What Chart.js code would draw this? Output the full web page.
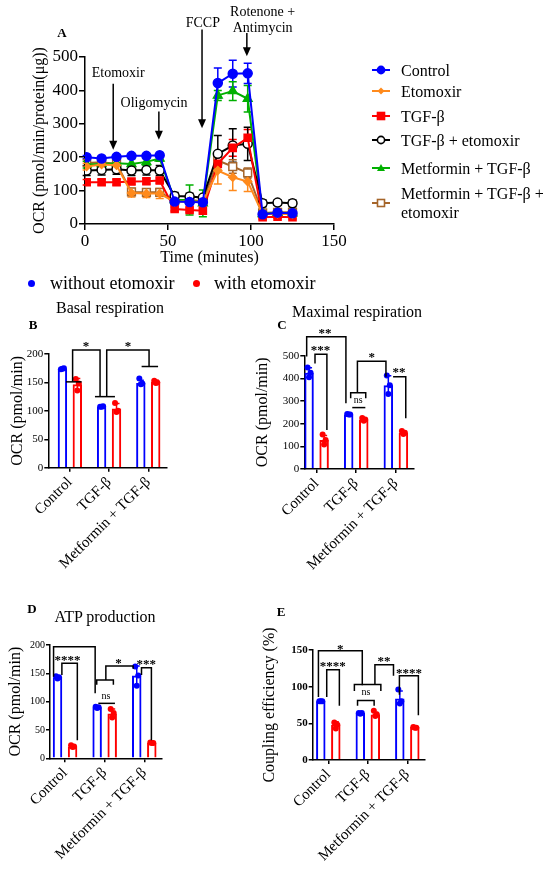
<!DOCTYPE html>
<html lang="en">
<head>
<meta charset="UTF-8">
<title>OCR panels</title>
<script src="https://cdn.jsdelivr.net/npm/chart.js"></script>
<style>
  body { margin: 0; background: #fff; }
  #page { position: relative; width: 550px; height: 875px; overflow: hidden; font-family: 'Liberation Serif', serif; color: #000; }
  canvas { position: absolute; }
  .txt { position: absolute; white-space: nowrap; transform: translate(-50%, -50%); }
  .letter { font-weight: bold; font-size: 13px; }
  .ptitle { font-size: 16px; }
  .legA { position: absolute; left: 401px; font-size: 16px; line-height: 19px; width: 160px; }
  .mkA { position: absolute; left: 372px; }
  .dot { position: absolute; width: 7px; height: 7px; border-radius: 50%; }
  .leg2 { position: absolute; font-size: 18px; line-height: 20px; white-space: nowrap; }
</style>
</head>
<body>
<div id="page">
  <canvas id="chartA" width="550" height="267" style="left:0;top:0"></canvas>
  <canvas id="chartB" width="250" height="290" style="left:0;top:290px"></canvas>
  <canvas id="chartC" width="300" height="290" style="left:250px;top:290px"></canvas>
  <canvas id="chartD" width="250" height="290" style="left:0;top:585px"></canvas>
  <canvas id="chartE" width="300" height="290" style="left:250px;top:585px"></canvas>

  <div class="txt letter" style="left:62px;top:33px">A</div>
  <div class="txt letter" style="left:33px;top:325px">B</div>
  <div class="txt letter" style="left:282px;top:325px">C</div>
  <div class="txt letter" style="left:32px;top:609px">D</div>
  <div class="txt letter" style="left:281px;top:612px">E</div>
  <div class="txt ptitle" style="left:110px;top:308px">Basal respiration</div>
  <div class="txt ptitle" style="left:357px;top:312px">Maximal respiration</div>
  <div class="txt ptitle" style="left:105px;top:617px">ATP production</div>

  <div class="dot" style="left:28px;top:280px;background:#0000ff"></div>
  <div class="leg2" id="leg2a" style="left:50px;top:273px"></div>
  <div class="dot" style="left:193px;top:280px;background:#ff0000"></div>
  <div class="leg2" id="leg2b" style="left:214px;top:273px"></div>
  <div id="legendA"></div>
</div>
<script>
// ---- panel A: Seahorse trace ----
const times = [1, 10, 19, 28, 37, 45, 54, 63, 71, 80, 89, 98, 107, 116, 125];
const ocrControl    = [200, 196, 201, 204, 204, 206, 67, 66, 65, 422, 450, 451, 29, 34, 32];
const sdControl     = [5, 4, 4, 4, 4, 4, 8, 8, 8, 45, 40, 30, 5, 5, 5];
const ocrEtomoxir   = [172, 178, 176, 93, 91, 91, 66, 68, 65, 160, 140, 127, 30, 31, 29];
const sdEtomoxir    = [10, 10, 10, 12, 12, 15, 8, 8, 8, 40, 40, 30, 5, 5, 5];
const ocrTgfb       = [125, 125, 125, 127, 128, 130, 45, 42, 40, 180, 228, 258, 20, 22, 20];
const sdTgfb        = [8, 8, 8, 8, 8, 8, 6, 6, 6, 20, 25, 25, 5, 5, 5];
const ocrTgfbEto    = [160, 162, 164, 160, 162, 160, 84, 82, 79, 210, 235, 240, 62, 64, 62];
const sdTgfbEto     = [15, 15, 15, 15, 15, 15, 10, 10, 8, 55, 50, 50, 10, 8, 10];
const ocrMetTgfb    = [178, 180, 182, 180, 186, 196, 72, 72, 62, 385, 398, 375, 30, 34, 32];
const sdMetTgfb     = [10, 10, 10, 15, 10, 8, 10, 45, 40, 15, 28, 40, 5, 5, 5];
const ocrMetTgfbEto = [183, 185, 180, 96, 95, 95, 70, 72, 68, 190, 172, 153, 33, 35, 35];
const sdMetTgfbEto  = [10, 10, 10, 10, 10, 10, 8, 8, 8, 15, 20, 15, 5, 5, 5];
const namesA = ['Control', 'Etomoxir', 'TGF-β', 'TGF-β + etomoxir', 'Metformin + TGF-β', 'Metformin + TGF-β + etomoxir'];
const valuesA = [ocrControl, ocrEtomoxir, ocrTgfb, ocrTgfbEto, ocrMetTgfb, ocrMetTgfbEto];
const errorsA = [sdControl, sdEtomoxir, sdTgfb, sdTgfbEto, sdMetTgfb, sdMetTgfbEto];
// injection arrows: time, arrow from/to (OCR units), label centre
const injections = [
  { text: ['Etomoxir'], x: 17, from: 420, to: 222, at: [20, 452] },
  { text: ['Oligomycin'], x: 44.5, from: 337, to: 252, at: [41.6, 362] },
  { text: ['FCCP'], x: 70.5, from: 582, to: 287, at: [71, 602] },
  { text: ['Rotenone +', 'Antimycin'], x: 97.5, from: 572, to: 502, at: [107, 611] }
];

// ---- panels B-E: bar charts ----
const groups = ['Control', 'TGF-β', 'Metformin + TGF-β'];
const seriesNames = ['without etomoxir', 'with etomoxir'];

const basalWithout = [174, 107, 149];
const basalWith = [147, 104, 151];
const basalSd = [[2, 1, 5], [10, 9, 3]];
const basalPts = [[[173, 175, 174], [107, 108, 107], [157, 148, 147]],
                  [[156, 148, 136], [114, 100, 98], [153, 150, 149]]];

const maximalWithout = [425, 241, 370];
const maximalWith = [128, 218, 160];
const maximalSd = [[22, 3, 42], [20, 6, 7]];
const maximalPts = [[[448, 425, 405], [243, 241, 240], [413, 370, 331]],
                    [[152, 128, 108], [225, 218, 213], [168, 160, 155]]];

const atpWithout = [143, 90, 146];
const atpWith = [21, 79, 27];
const atpSd = [[2, 1, 17], [2, 8, 1]];
const atpPts = [[[145, 143, 141], [91, 90, 89], [162, 146, 128]],
                [[23, 21, 20], [87, 80, 72], [28, 27, 27]]];

const couplingWithout = [80, 64, 84];
const couplingWith = [48, 62, 45];
const couplingSd = [[1, 1, 10], [4, 3, 1]];
const couplingPts = [[[80, 80, 80], [64, 64, 63], [96, 80, 77]],
                     [[51, 48, 43], [67, 62, 60], [45, 44, 44]]];

// significance brackets, in (group position, value) units
const basalBrackets = [
  { path: [[-0.1, 151], [0.3, 151]] },
  { path: [[0.07, 151], [0.07, 207], [0.77, 207], [0.77, 125]], text: '*', at: [0.41, 219] },
  { path: [[0.64, 125], [1.15, 125]] },
  { path: [[0.94, 125], [0.94, 207], [2.02, 207], [2.02, 178]], text: '*', at: [1.48, 219] },
  { path: [[1.83, 178], [2.25, 178]] }
];
const maximalBrackets = [
  { path: [[-0.25, 496], [-0.25, 584], [0.74, 584], [0.74, 290]], text: '**', at: [0.21, 610] },
  { path: [[-0.04, 466], [-0.04, 506], [0.26, 506], [0.26, 172]], text: '***', at: [0.1, 535] },
  { path: [[0.86, 312], [0.86, 337], [1.24, 337], [1.24, 312]], text: 'ns', at: [1.05, 301] },
  { path: [[0.9, 271], [1.23, 271]] },
  { path: [[1.03, 337], [1.03, 476], [1.75, 476], [1.75, 407]], text: '*', at: [1.39, 505] },
  { path: [[1.93, 407], [2.25, 407], [2.25, 224]], text: '**', at: [2.08, 438] }
];
const atpBrackets = [
  { path: [[-0.29, 144], [-0.29, 197], [0.76, 197], [0.76, 115]] },
  { path: [[-0.08, 147], [-0.08, 168], [0.31, 168], [0.31, 32]], text: '****', at: [0.06, 178] },
  { path: [[0.8, 130], [0.8, 138], [1.22, 138], [1.22, 130]] },
  { path: [[1.03, 138], [1.03, 163], [1.72, 163], [1.72, 158]], text: '*', at: [1.35, 172] },
  { path: [[0.84, 97], [1.26, 97]], text: 'ns', at: [1.03, 110] },
  { path: [[1.93, 147], [1.93, 160], [2.18, 160], [2.18, 32]], text: '***', at: [2.05, 170] }
];
const couplingBrackets = [
  { path: [[-0.25, 86], [-0.25, 149], [0.86, 149], [0.86, 102]], text: '*', at: [0.30, 155] },
  { path: [[-0.04, 86], [-0.04, 123], [0.28, 123], [0.28, 74]], text: '****', at: [0.11, 132] },
  { path: [[0.66, 94], [0.66, 103], [1.33, 103], [1.33, 94]] },
  { path: [[0.74, 74], [0.74, 81], [1.16, 81], [1.16, 74]], text: 'ns', at: [0.95, 92] },
  { path: [[1.18, 103], [1.18, 130], [1.65, 130], [1.65, 115]], text: '**', at: [1.41, 138] },
  { path: [[1.80, 89], [1.80, 115], [2.28, 115], [2.28, 61]], text: '****', at: [2.04, 122] }
];

// ---- styles ----
const FONT = "'Liberation Serif', 'Times New Roman', serif";
Chart.defaults.font.family = FONT;
Chart.defaults.color = '#000';
Chart.defaults.animation = false;
Chart.defaults.responsive = false;
Chart.defaults.plugins.legend.display = false;
Chart.defaults.plugins.tooltip.enabled = false;

const styleA = [
  { color: '#0000ff', fill: '#0000ff', marker: 'circle', radius: 4.5 },
  { color: '#ff8a1c', fill: '#ff8a1c', marker: 'rectRot', radius: 4 },
  { color: '#ff0000', fill: '#ff0000', marker: 'rect', radius: 5 },
  { color: '#000000', fill: '#ffffff', marker: 'circle', radius: 4.5 },
  { color: '#00b000', fill: '#00b000', marker: 'triangle', radius: 5 },
  { color: '#a5652a', fill: '#ffffff', marker: 'rect', radius: 5.5 }
];
const seriesColors = ['#0000ff', '#ff0000'];
const jitter = [-1.5, 1.5, 0];

function axis(size, bold, tickLen) {
  return {
    border: { display: true, color: '#000', width: 1.5 },
    grid: { display: true, drawOnChartArea: false, drawTicks: true, tickLength: tickLen, tickColor: '#000', lineWidth: 1.5, offset: false },
    ticks: { color: '#000', font: { size: size, weight: bold ? 'bold' : 'normal' }, padding: 1 }
  };
}

function arrow(ctx, x, y1, y2) {
  ctx.beginPath();
  ctx.moveTo(x, y1);
  ctx.lineTo(x, y2 - 7);
  ctx.stroke();
  ctx.beginPath();
  ctx.moveTo(x, y2);
  ctx.lineTo(x - 4, y2 - 9);
  ctx.lineTo(x + 4, y2 - 9);
  ctx.closePath();
  ctx.fill();
}

const plotA = {
  id: 'plotA',
  beforeDatasetsDraw(chart) {
    const ctx = chart.ctx, xs = chart.scales.x, ys = chart.scales.y;
    ctx.save();
    ctx.lineWidth = 1.5;
    valuesA.forEach((vals, k) => {
      ctx.strokeStyle = styleA[k].color;
      vals.forEach((v, i) => {
        const x = xs.getPixelForValue(times[i]);
        const top = ys.getPixelForValue(v + errorsA[k][i]);
        const bot = ys.getPixelForValue(v - errorsA[k][i]);
        ctx.beginPath();
        ctx.moveTo(x, top); ctx.lineTo(x, bot);
        ctx.moveTo(x - 4, top); ctx.lineTo(x + 4, top);
        ctx.moveTo(x - 4, bot); ctx.lineTo(x + 4, bot);
        ctx.stroke();
      });
    });
    ctx.restore();
  },
  afterDraw(chart) {
    const ctx = chart.ctx, xs = chart.scales.x, ys = chart.scales.y;
    ctx.save();
    ctx.strokeStyle = '#000';
    ctx.fillStyle = '#000';
    ctx.lineWidth = 1.5;
    ctx.font = '14px ' + FONT;
    ctx.textAlign = 'center';
    ctx.textBaseline = 'middle';
    injections.forEach(inj => {
      const x = xs.getPixelForValue(inj.x);
      arrow(ctx, x, ys.getPixelForValue(inj.from), ys.getPixelForValue(inj.to));
      const cx = xs.getPixelForValue(inj.at[0]);
      const cy = ys.getPixelForValue(inj.at[1]);
      inj.text.forEach((line, j) => {
        ctx.fillText(line, cx, cy + (j - (inj.text.length - 1) / 2) * 16);
      });
    });
    ctx.restore();
  }
};

const axA = { x: axis(17, false, 6), y: axis(17, false, 6) };
axA.x.ticks.stepSize = 50;
axA.y.ticks.stepSize = 100;
new Chart(document.getElementById('chartA'), {
  type: 'line',
  data: {
    datasets: valuesA.map((vals, k) => ({
      label: namesA[k],
      data: vals.map((v, i) => ({ x: times[i], y: v })),
      borderColor: styleA[k].color,
      backgroundColor: styleA[k].fill,
      pointBackgroundColor: styleA[k].fill,
      pointBorderColor: styleA[k].color,
      pointStyle: styleA[k].marker,
      pointRadius: styleA[k].radius,
      pointBorderWidth: 1.5,
      borderWidth: 2,
      tension: 0
    }))
  },
  options: {
    layout: { padding: { left: 30, right: 216, top: 57, bottom: 0 } },
    scales: {
      x: Object.assign(axA.x, {
        type: 'linear', min: 0, max: 150,
        afterFit: s => { s.height = 43; },
        title: { display: true, text: 'Time (minutes)', font: { size: 16 }, padding: 0 }
      }),
      y: Object.assign(axA.y, {
        min: 0, max: 500,
        afterFit: s => { s.width = 55; },
        title: { display: true, text: 'OCR (pmol/min/protein(μg))', font: { size: 16 }, padding: 0 }
      })
    }
  },
  plugins: [plotA]
});

// legend for panel A
function markerSvg(st) {
  const c = st.color, f = st.fill;
  let shape = '';
  if (st.marker === 'circle') shape = `<circle cx="9" cy="7" r="3.6" fill="${f}" stroke="${c}" stroke-width="1.6"/>`;
  if (st.marker === 'rect') shape = `<rect x="5.5" y="3.5" width="7" height="7" fill="${f}" stroke="${c}" stroke-width="1.6"/>`;
  if (st.marker === 'rectRot') shape = `<polygon points="9,3.5 12.5,7 9,10.5 5.5,7" fill="${f}"/>`;
  if (st.marker === 'triangle') shape = `<polygon points="9,3 13,10 5,10" fill="${f}"/>`;
  return `<svg width="18" height="14"><line x1="0" y1="7" x2="18" y2="7" stroke="${c}" stroke-width="2"/>${shape}</svg>`;
}
const legendRows = [70, 91, 116, 140, 168, 203];
const legendA = document.getElementById('legendA');
namesA.forEach((name, k) => {
  const y = legendRows[k];
  const mk = document.createElement('div');
  mk.className = 'mkA';
  mk.style.top = (y - 7) + 'px';
  mk.innerHTML = markerSvg(styleA[k]);
  legendA.appendChild(mk);
  const t = document.createElement('div');
  t.className = 'legA';
  t.textContent = name;
  t.style.top = (k === 5 ? y - 19 : y - 9.5) + 'px';
  legendA.appendChild(t);
});
document.getElementById('leg2a').textContent = seriesNames[0];
document.getElementById('leg2b').textContent = seriesNames[1];

// bar panels
function marks(means, sd, pts, brackets) {
  return {
    id: 'marks',
    afterDatasetsDraw(chart) {
      const ctx = chart.ctx, xs = chart.scales.x, ys = chart.scales.y;
      ctx.save();
      ctx.lineWidth = 1.5;
      means.forEach((vals, k) => {
        const meta = chart.getDatasetMeta(k);
        ctx.strokeStyle = seriesColors[k];
        ctx.fillStyle = seriesColors[k];
        vals.forEach((v, i) => {
          const x = meta.data[i].x;
          const top = ys.getPixelForValue(v + sd[k][i]);
          const bot = ys.getPixelForValue(v - sd[k][i]);
          ctx.beginPath();
          ctx.moveTo(x, bot); ctx.lineTo(x, top);
          ctx.moveTo(x - 3, top); ctx.lineTo(x + 3, top);
          ctx.stroke();
          pts[k][i].forEach((p, j) => {
            ctx.beginPath();
            ctx.arc(x + jitter[j], ys.getPixelForValue(p), 3, 0, Math.PI * 2);
            ctx.fill();
          });
        });
      });
      ctx.strokeStyle = '#000';
      ctx.fillStyle = '#000';
      ctx.textAlign = 'center';
      ctx.textBaseline = 'middle';
      brackets.forEach(b => {
        ctx.beginPath();
        b.path.forEach((p, j) => {
          const px = xs.getPixelForValue(p[0]), py = ys.getPixelForValue(p[1]);
          if (j) ctx.lineTo(px, py); else ctx.moveTo(px, py);
        });
        ctx.stroke();
        if (b.text) {
          ctx.font = (b.text === 'ns' ? '10px ' : 'bold 13px ') + FONT;
          ctx.fillText(b.text, xs.getPixelForValue(b.at[0]), ys.getPixelForValue(b.at[1]) + (b.text === 'ns' ? 0 : 3));
        }
      });
      ctx.restore();
    }
  };
}

function barPanel(id, without, withEto, sd, pts, brackets, yTitle, box) {
  const means = [without, withEto];
  const ax = { x: axis(15, false, 4), y: axis(box.tickSize, box.bold, 4) };
  ax.x.ticks.autoSkip = false;
  ax.x.ticks.minRotation = 45;
  ax.x.ticks.maxRotation = 45;
  ax.x.ticks.padding = 2;
  ax.x.ticks.callback = v => groups[v];
  ax.y.ticks.stepSize = box.step;
  new Chart(document.getElementById(id), {
    type: 'bar',
    data: {
      datasets: means.map((vals, k) => ({
        label: seriesNames[k],
        data: vals.map((v, i) => ({ x: i, y: v })),
        borderColor: seriesColors[k],
        backgroundColor: 'rgba(0,0,0,0)',
        borderWidth: 2,
        categoryPercentage: 0.76,
        barPercentage: 0.63
      }))
    },
    options: {
      layout: { padding: { left: box.pl, right: box.pr, top: box.pt, bottom: 0 } },
      scales: {
        x: Object.assign(ax.x, {
          type: 'linear', offset: false, min: box.xmin, max: box.xmax,
          afterBuildTicks: s => { s.ticks = groups.map((g, i) => ({ value: i })); },
          afterFit: s => { s.height = box.xh; }
        }),
        y: Object.assign(ax.y, {
          min: 0, max: box.ymax,
          afterFit: s => { s.width = box.yw; },
          title: { display: true, text: yTitle, font: { size: 16 }, padding: 0 }
        })
      }
    },
    plugins: [marks(means, sd, pts, brackets)]
  });
}

barPanel('chartB', basalWithout, basalWith, basalSd, basalPts, basalBrackets, 'OCR (pmol/min)',
  { pl: 8.4, yw: 39.9, pr: 83.3, pt: 64, xh: 112.3, xmin: -0.55, xmax: 2.47, ymax: 200, step: 50, tickSize: 11 });
barPanel('chartC', maximalWithout, maximalWith, maximalSd, maximalPts, maximalBrackets, 'OCR (pmol/min)',
  { pl: 3.4, yw: 50.9, pr: 136.7, pt: 65.7, xh: 111, xmin: -0.31, xmax: 2.44, ymax: 500, step: 100, tickSize: 11 });
barPanel('chartD', atpWithout, atpWith, atpSd, atpPts, atpBrackets, 'OCR (pmol/min)',
  { pl: 6.4, yw: 43.6, pr: 88.3, pt: 60, xh: 116.7, xmin: -0.38, xmax: 2.44, ymax: 200, step: 50, tickSize: 10 });
barPanel('chartE', couplingWithout, couplingWith, couplingSd, couplingPts, couplingBrackets, 'Coupling efficiency (%)',
  { pl: 10.4, yw: 52.3, pr: 125.7, pt: 65, xh: 115, xmin: -0.395, xmax: 2.43, ymax: 150, step: 50, tickSize: 11, bold: true });
</script>
</body>
</html>
